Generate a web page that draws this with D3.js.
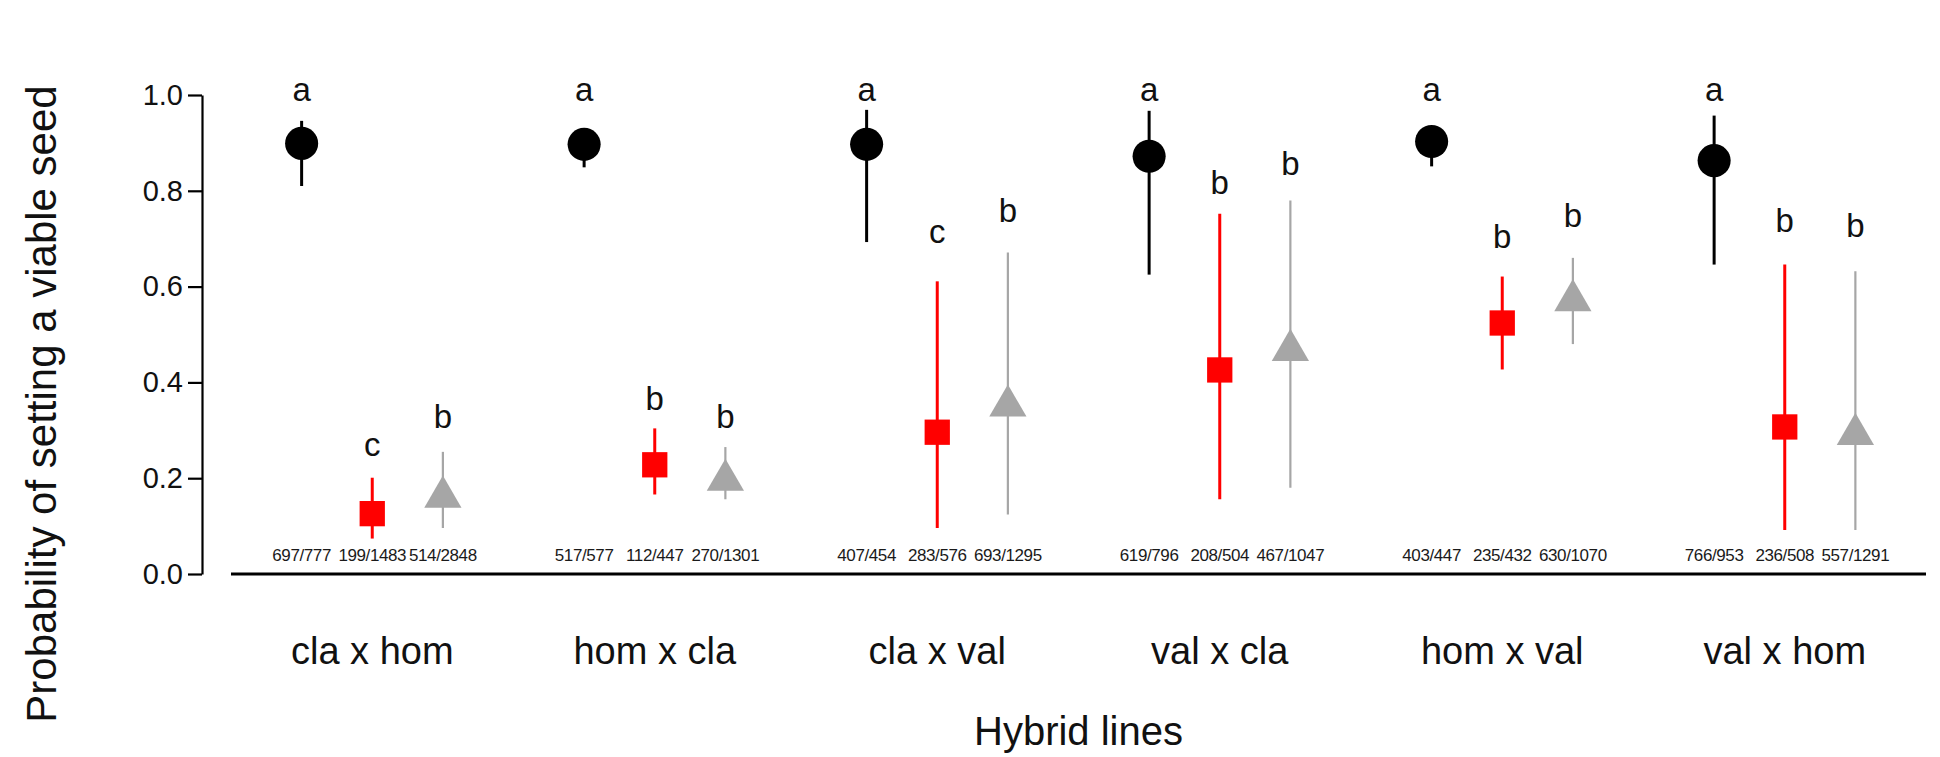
<!DOCTYPE html>
<html>
<head>
<meta charset="utf-8">
<script src="https://cdn.jsdelivr.net/npm/d3@7"></script>
<style>
  body { margin: 0; background: #fff; }
  svg { display: block; font-family: "Liberation Sans", Arial, Helvetica, sans-serif; }
</style>
</head>
<body>
<svg id="chart" width="1940" height="757"></svg>
<script>
// hybrid lines (groups along x)
const groups = ["cla x hom", "hom x cla", "cla x val", "val x cla", "hom x val", "val x hom"];

// black circles
const blackMean = [0.899, 0.897, 0.897, 0.872, 0.903, 0.863];
const blackLo   = [0.810, 0.849, 0.693, 0.625, 0.851, 0.646];
const blackHi   = [0.946, 0.925, 0.969, 0.967, 0.925, 0.957];
const blackCounts = ["697/777", "517/577", "407/454", "619/796", "403/447", "766/953"];
const blackLetters = ["a", "a", "a", "a", "a", "a"];
const blackLetterY = [0.988, 0.988, 0.988, 0.988, 0.988, 0.988];

// red squares
const redMean = [0.126, 0.228, 0.296, 0.426, 0.524, 0.307];
const redLo   = [0.074, 0.166, 0.096, 0.156, 0.427, 0.092];
const redHi   = [0.201, 0.304, 0.611, 0.752, 0.621, 0.646];
const redCounts = ["199/1483", "112/447", "283/576", "208/504", "235/432", "236/508"];
const redLetters = ["c", "b", "c", "b", "b", "b"];
const redLetterY = [0.247, 0.343, 0.692, 0.794, 0.681, 0.713];

// grey triangles
const greyMean = [0.161, 0.196, 0.351, 0.467, 0.571, 0.292];
const greyLo   = [0.096, 0.156, 0.124, 0.180, 0.480, 0.092];
const greyHi   = [0.255, 0.265, 0.671, 0.780, 0.660, 0.632];
const greyCounts = ["514/2848", "270/1301", "693/1295", "467/1047", "630/1070", "557/1291"];
const greyLetters = ["b", "b", "b", "b", "b", "b"];
const greyLetterY = [0.304, 0.304, 0.734, 0.833, 0.724, 0.703];

const yTicks = [0, 0.2, 0.4, 0.6, 0.8, 1.0];

const svg = d3.select("#chart");

// positions 1,2,3 / 5,6,7 / ... like base R with a gap between groups
const x = d3.scaleLinear().domain([0, 24]).range([231, 1926]);
const y = d3.scaleLinear().domain([0, 1]).range([574, 95]);
const axisX = 202;

const series = [
  { mean: blackMean, lo: blackLo, hi: blackHi, counts: blackCounts, letters: blackLetters, letterY: blackLetterY,
    offset: 1, color: "#000000", barWidth: 3, shape: "circle" },
  { mean: redMean, lo: redLo, hi: redHi, counts: redCounts, letters: redLetters, letterY: redLetterY,
    offset: 2, color: "#ff0000", barWidth: 3, shape: "square" },
  { mean: greyMean, lo: greyLo, hi: greyHi, counts: greyCounts, letters: greyLetters, letterY: greyLetterY,
    offset: 3, color: "#a6a6a6", barWidth: 2.2, shape: "triangle" }
];

const pos = (g, s) => g * 4 + s.offset;

// y axis
const yAxis = svg.append("g")
  .attr("transform", "translate(" + axisX + ",0)")
  .call(d3.axisLeft(y).tickValues(yTicks).tickFormat(d3.format(".1f")).tickSize(14).tickSizeOuter(0).tickPadding(5));
yAxis.select(".domain").attr("stroke", "#000").attr("stroke-width", 2.2);
yAxis.selectAll(".tick line").attr("stroke", "#000").attr("stroke-width", 2.2);
yAxis.selectAll(".tick text")
  .attr("fill", "#111")
  .style("font-size", "29px")
  .style("font-family", "Liberation Sans, Arial, sans-serif");

// baseline at zero
svg.append("line")
  .attr("x1", x(0)).attr("x2", x(24))
  .attr("y1", y(0)).attr("y2", y(0))
  .attr("stroke", "#000").attr("stroke-width", 3);

series.forEach(s => {
  const idx = d3.range(groups.length);

  // error bars
  svg.append("g").selectAll("line")
    .data(idx).join("line")
    .attr("x1", g => x(pos(g, s))).attr("x2", g => x(pos(g, s)))
    .attr("y1", g => y(s.lo[g])).attr("y2", g => y(s.hi[g]))
    .attr("stroke", s.color).attr("stroke-width", s.barWidth);

  // markers
  const sym = s.shape === "circle" ? d3.symbolCircle : s.shape === "square" ? d3.symbolSquare : d3.symbolTriangle;
  const size = s.shape === "circle" ? 860 : s.shape === "square" ? 640 : 600;
  svg.append("g").selectAll("path")
    .data(idx).join("path")
    .attr("transform", g => "translate(" + x(pos(g, s)) + "," + y(s.mean[g]) + ")")
    .attr("d", d3.symbol().type(sym).size(size))
    .attr("fill", s.color);

  // significance letters
  svg.append("g").selectAll("text")
    .data(idx).join("text")
    .attr("x", g => x(pos(g, s)))
    .attr("y", g => y(s.letterY[g]))
    .attr("text-anchor", "middle")
    .style("font-size", "33px")
    .attr("fill", "#111")
    .text(g => s.letters[g]);

  // counts
  svg.append("g").selectAll("text")
    .data(idx).join("text")
    .attr("x", g => x(pos(g, s)))
    .attr("y", 561)
    .attr("text-anchor", "middle")
    .style("font-size", "17px")
    .style("letter-spacing", "-0.4px")
    .attr("fill", "#1a1a1a")
    .text(g => s.counts[g]);
});

// group labels
svg.append("g").selectAll("text")
  .data(groups).join("text")
  .attr("x", (d, i) => x(i * 4 + 2))
  .attr("y", 664)
  .attr("text-anchor", "middle")
  .style("font-size", "38px")
  .attr("fill", "#111")
  .text(d => d);

// axis titles
svg.append("text")
  .attr("x", (x(0) + x(24)) / 2)
  .attr("y", 745)
  .attr("text-anchor", "middle")
  .style("font-size", "40px")
  .attr("fill", "#111")
  .text("Hybrid lines");

svg.append("text")
  .attr("transform", "translate(56,404)rotate(-90)")
  .attr("text-anchor", "middle")
  .style("font-size", "42px")
  .attr("fill", "#111")
  .text("Probability of setting a viable seed");
</script>
</body>
</html>
